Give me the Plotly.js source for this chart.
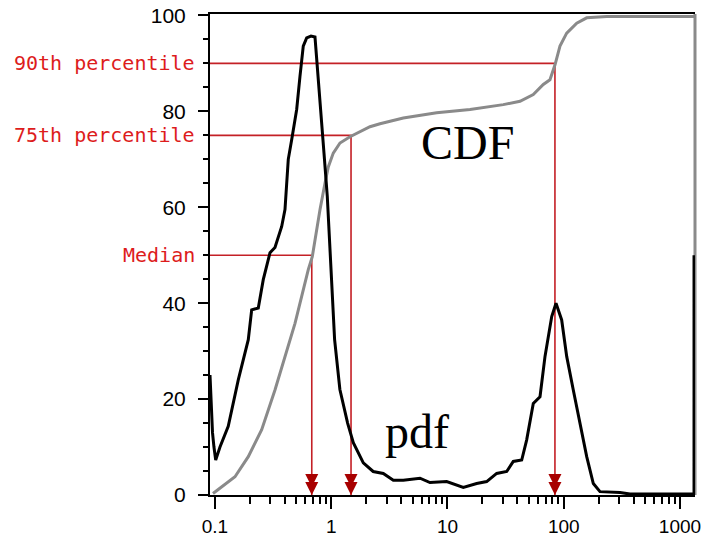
<!DOCTYPE html>
<html><head><meta charset="utf-8">
<script src="https://cdn.plot.ly/plotly-3.0.1.min.js"></script>
<style>html,body{margin:0;padding:0;background:#fff}</style>
</head><body><div id="chart" style="width:713px;height:538px"></div>
<script>
// pdf curve (black)
const pdfX = [
  0.0906, 0.0924, 0.0952, 0.098, 0.1014, 0.1104, 0.130, 0.1586, 0.1934, 0.2068,
  0.2358, 0.2602, 0.2972, 0.3281, 0.3749, 0.400, 0.427, 0.4568, 0.5044, 0.5383,
  0.5746, 0.6147, 0.6696, 0.7249, 0.7497, 0.8002, 0.8662, 0.9246, 0.9755, 1.009,
  1.069, 1.187, 1.383, 1.548, 1.709, 1.887, 2.295, 2.804, 3.419, 4.167,
  5.80, 7.07, 9.84, 13.68, 17.83, 21.74, 26.5, 32.3, 36.8, 43.5,
  48.0, 54.7, 62.5, 69.0, 78.8, 85.8, 96.0, 106.0, 120.8, 138.0,
  157.6, 179.6, 205.0, 304.8, 371.5, 1320, 1320
];
const pdfY = [
  25, 20, 13, 10, 7.3, 10, 14.3, 24, 32.4, 38.6,
  39, 44.9, 50.5, 51.6, 56, 59.5, 70, 74.1, 80.4, 87.3,
  93.6, 95.3, 95.7, 95.5, 90.8, 80.4, 71.3, 62.3, 51.5, 43,
  32.4, 22, 15, 10.9, 8.8, 6.7, 4.9, 4.5, 3.1, 3.1,
  3.5, 2.6, 2.8, 1.6, 2.4, 2.8, 4.5, 4.9, 7, 7.3,
  11.5, 19.1, 20.5, 28.9, 37.2, 40, 36.5, 28.9, 21.9, 15,
  8, 2.4, 0.7, 0.5, 0.2, 0.2, 50
];
// CDF curve (gray)
const cdfX = [
  0.0961, 0.1142, 0.1486, 0.1934, 0.2522, 0.3281, 0.400, 0.4879, 0.5568, 0.6346,
  0.6871, 0.7249, 0.8002, 0.8835, 0.9432, 1.041, 1.189, 1.450, 1.767, 2.154,
  2.627, 4.167, 8.07, 15.62, 30.2, 42.05, 54.7, 66.7, 76.1, 84.1,
  92.8, 106.0, 129.3, 157.6, 234.2, 1346
];
const cdfY = [
  0.3, 1.7, 3.8, 8, 13.6, 21.9, 28.9, 35.8, 41.4, 47,
  49.7, 53.2, 59.5, 65, 68.4, 71.3, 73.4, 74.7, 75.8, 76.8,
  77.4, 78.6, 79.7, 80.4, 81.4, 82.1, 83.5, 85.6, 86.6, 89.7,
  93.6, 96.3, 98.4, 99.5, 99.8, 99.8
];
// percentiles
const pctLabels = ['Median', '75th percentile', '90th percentile'];
const pctValues = [50, 75, 90];
const pctX = [0.68, 1.48, 84];
// axis ticks
const xTickVals = [0.1, 1, 10, 100, 1000];
const xTickText = ['0.1', '1', '10', '100', '1000'];
const xMin = 0.0906, xMax = 1346;
const yTickVals = [0, 20, 40, 60, 80, 100];

const xRange = [Math.log10(xMin), Math.log10(xMax)];
const yRange = [0, 100.3];
const margin = {l: 210, r: 18, t: 14, b: 43};
const H = 538;
const pxPerUnit = (H - margin.t - margin.b) / (yRange[1] - yRange[0]);

const minorX = [];
xTickVals.forEach(d => { for (let k = 2; k <= 9; k++) { const v = k * d; if (v > xMin && v < xMax) minorX.push(v); } });

// red guide lines
const gx = [], gy = [];
pctValues.forEach((p, i) => { gx.push(xMin, pctX[i], pctX[i], null); gy.push(p, p, 0, null); });

const red = '#c42026';
const traces = [
  {x: gx, y: gy, mode: 'lines', line: {color: red, width: 1.6}, hoverinfo: 'skip'},
  {x: cdfX, y: cdfY, mode: 'lines', line: {color: '#8a8a8a', width: 3}},
  {x: pdfX, y: pdfY, mode: 'lines', line: {color: '#000', width: 3}},
  {x: pctX, y: pctX.map(() => 0), mode: 'markers', marker: {symbol: 'arrow-down', size: 13, color: '#a80000', line: {width: 0}}},
  {x: pctX, y: pctX.map(() => 8 / pxPerUnit), mode: 'markers', marker: {symbol: 'arrow-down', size: 13, color: '#a80000', line: {width: 0}}}
];

const annotations = pctLabels.map((t, i) => ({
  text: t, xref: 'paper', x: 0, xanchor: 'right', xshift: -13,
  yref: 'y', y: pctValues[i], yanchor: 'middle', showarrow: false,
  font: {family: 'DejaVu Sans Mono', size: 20, color: '#dd1c1c'}
}));
annotations.push({text: 'CDF', xref: 'paper', yref: 'paper', x: 0.53, y: 0.732, xanchor: 'center', yanchor: 'middle', showarrow: false,
  font: {family: 'Liberation Serif', size: 48, color: '#000'}});
annotations.push({text: 'pdf', xref: 'paper', yref: 'paper', x: 0.426, y: 0.131, xanchor: 'center', yanchor: 'middle', showarrow: false,
  font: {family: 'Liberation Serif', size: 48, color: '#000'}});

const layout = {
  width: 713, height: H, margin: margin,
  paper_bgcolor: '#fff', plot_bgcolor: '#fff', showlegend: false,
  xaxis: {
    type: 'log', range: xRange, tickmode: 'array', tickvals: xTickVals, ticktext: xTickText,
    ticks: 'outside', ticklen: 12, tickwidth: 2, tickcolor: '#000',
    showline: true, linecolor: '#000', linewidth: 2, mirror: true,
    showgrid: false, zeroline: false, ticklabelstandoff: 1,
    tickfont: {family: 'Liberation Sans', size: 19, color: '#000'},
    minor: {tickmode: 'array', tickvals: minorX, ticks: 'outside', ticklen: 7, tickwidth: 2, tickcolor: '#000', showgrid: false}
  },
  yaxis: {
    range: yRange, tickmode: 'array', tickvals: yTickVals,
    ticks: 'outside', ticklen: 10, tickwidth: 2, tickcolor: '#000',
    showline: true, linecolor: '#000', linewidth: 2,
    showgrid: false, zeroline: false, ticklabelstandoff: 8,
    tickfont: {family: 'Liberation Sans', size: 21, color: '#000'},
    minor: {tickmode: 'linear', tick0: 0, dtick: 5, ticks: 'outside', ticklen: 5, tickwidth: 2, tickcolor: '#000', showgrid: false}
  },
  shapes: [{type: 'line', xref: 'paper', yref: 'paper', x0: 1, x1: 1, y0: 0, y1: 1, layer: 'below', line: {color: '#8a8a8a', width: 3}}],
  annotations: annotations
};

Plotly.newPlot('chart', traces, layout, {staticPlot: true, displayModeBar: false});
</script>
</body></html>
